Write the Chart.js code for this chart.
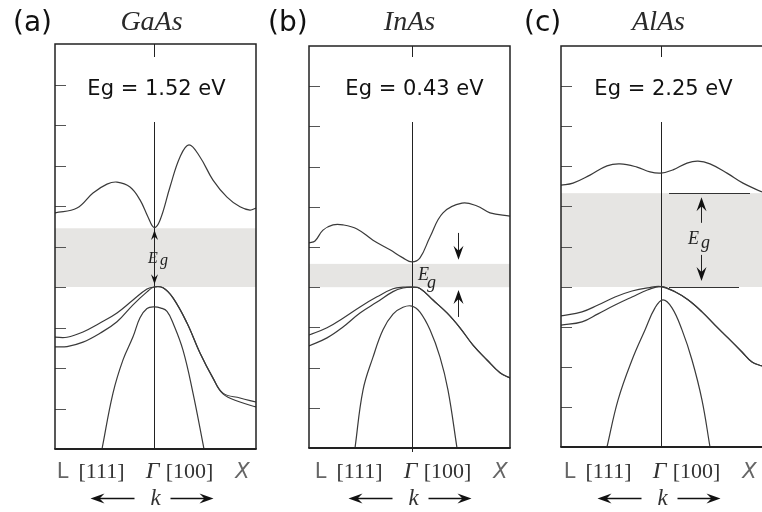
<!DOCTYPE html>
<html>
<head>
<meta charset="utf-8">
<script src="https://cdn.jsdelivr.net/npm/chart.js"></script>
<style>
body{margin:0;background:#fff;}
#wrap{position:relative;width:762px;height:512px;overflow:hidden;background:#fff;}
canvas{position:absolute;left:0;top:0;}
</style>
</head>
<body>
<div id="wrap">
<canvas id="c0" width="762" height="512"></canvas>
<canvas id="c1" width="762" height="512"></canvas>
<canvas id="c2" width="762" height="512"></canvas>
</div>
<script>
// texts
const panelTags = ["(a)", "(b)", "(c)"];
const materials = ["GaAs", "InAs", "AlAs"];
const gapTexts = ["Eg = 1.52 eV", "Eg = 0.43 eV", "Eg = 2.25 eV"];
const kLabels = ["L", "[111]", "\u0393", "[100]", "X"];

// k of Gamma point in each panel (L = 0, X = 201)
const gammaK = [99, 103, 100];

// band gap: valence top / conduction bottom (energy units, ticks at 1..9)
const gapLow = [4.0, 4.0, 3.99];
const gapHigh = [5.45, 4.58, 6.33];

// GaAs bands [k, E]
const gaasCond = [[0,5.83],[22,5.95],[38,6.32],[52,6.54],[62,6.59],[75,6.47],[85,6.15],[93,5.73],[99,5.47],[105,5.65],[115,6.47],[125,7.21],[134,7.51],[145,7.21],[158,6.64],[172,6.22],[185,5.98],[195,5.90],[201,5.95]];
const gaasHH = [[0,2.76],[12,2.76],[28,2.89],[45,3.11],[62,3.36],[78,3.68],[92,3.95],[99,4.0],[108,3.98],[118,3.73],[132,3.11],[145,2.37],[158,1.75],[168,1.38],[185,1.26],[201,1.16]];
const gaasLH = [[0,2.52],[12,2.53],[28,2.64],[45,2.86],[62,3.14],[78,3.56],[92,3.88],[99,4.0],[108,3.98],[118,3.73],[132,3.11],[145,2.37],[158,1.75],[168,1.36],[185,1.16],[201,1.04]];
const gaasSO = [[47,0],[58,1.38],[68,2.20],[78,2.77],[85,3.24],[92,3.47],[99,3.51],[106,3.48],[112,3.40],[118,3.11],[128,2.44],[138,1.38],[149,0]];

// InAs bands
const inasCond = [[0,5.10],[6,5.15],[14,5.42],[24,5.55],[34,5.55],[48,5.45],[64,5.17],[81,4.93],[94,4.73],[103,4.63],[111,4.73],[121,5.25],[134,5.85],[153,6.09],[168,6.02],[181,5.85],[201,5.77]];
const inasHH = [[0,2.81],[18,2.99],[34,3.23],[51,3.51],[68,3.76],[84,3.96],[94,4.0],[103,4.0],[111,3.97],[124,3.68],[138,3.36],[151,2.99],[164,2.56],[178,2.19],[191,1.87],[201,1.74]];
const inasLH = [[0,2.54],[18,2.74],[34,3.01],[51,3.36],[68,3.63],[84,3.89],[94,3.98],[103,4.0],[111,3.97],[124,3.68],[138,3.36],[151,2.99],[164,2.56],[178,2.19],[191,1.87],[201,1.74]];
const inasSO = [[46,0],[54,1.44],[64,2.26],[74,2.94],[84,3.33],[94,3.50],[103,3.53],[111,3.38],[121,2.94],[131,2.26],[139,1.44],[148,0]];

// AlAs bands
const alasCond = [[0,6.53],[12,6.58],[29,6.78],[46,7.01],[59,7.06],[76,6.98],[89,6.86],[100,6.83],[112,6.91],[126,7.08],[137,7.13],[149,7.06],[166,6.83],[182,6.58],[201,6.36]];
const alasHH = [[0,3.27],[21,3.37],[37,3.54],[54,3.74],[71,3.89],[87,3.97],[100,4.0],[114,3.87],[127,3.67],[141,3.37],[154,3.04],[167,2.72],[181,2.37],[191,2.12],[201,2.02]];
const alasLH = [[0,3.04],[21,3.12],[37,3.32],[54,3.54],[71,3.74],[87,3.92],[100,4.0],[114,3.87],[127,3.67],[141,3.37],[154,3.04],[167,2.72],[181,2.37],[191,2.12],[201,2.02]];
const alasSO = [[46,0],[57,1.17],[71,2.17],[84,2.92],[94,3.47],[102,3.67],[111,3.47],[121,2.92],[131,2.17],[141,1.17],[149,0]];

const bands = [
  [gaasCond, gaasHH, gaasLH, gaasSO],
  [inasCond, inasHH, inasLH, inasSO],
  [alasCond, alasHH, alasLH, alasSO]
];

// Eg arrows: k, [from, tip] energies
const egArrowK = [99, 149, 140];
const egUp = [[5.04, 5.41], [3.26, 3.93], [5.59, 6.23]];
const egDown = [[4.47, 4.07], [5.35, 4.68], [4.79, 4.14]];
const egLabel = [[93, 4.59], [109, 4.18], [127, 5.05]];
// AlAs edge marker lines [k0, k1, E]
const alasEdges = [[108, 189, 6.33], [108, 178, 4.0]];

// layout
const pads = [
  {left:55, top:44, right:506, bottom:63},
  {left:309, top:46, right:252, bottom:64},
  {left:561, top:46, right:0, bottom:65}
];
const tagX = [13, 268, 524];
const egFont = [16, 18, 18];
const gOff = [[12, 2], [9, 8], [13, 4]];
const lblOff = [-92, -53, -2, 35, 88];

function stealth(ctx, x, y, dx, dy, len, w){
  // tip at (x,y), direction (dx,dy)
  const bx = x - dx*len, by = y - dy*len;
  const px = -dy, py = dx;
  ctx.beginPath();
  ctx.moveTo(x, y);
  ctx.lineTo(bx + px*w/2, by + py*w/2);
  ctx.lineTo(x - dx*len*0.65, y - dy*len*0.65);
  ctx.lineTo(bx - px*w/2, by - py*w/2);
  ctx.closePath();
  ctx.fill();
}

function arrow(ctx, x0, y0, x1, y1, len, w){
  const d = Math.hypot(x1-x0, y1-y0), dx = (x1-x0)/d, dy = (y1-y0)/d;
  ctx.beginPath();
  ctx.moveTo(x0, y0);
  ctx.lineTo(x1 - dx*len*0.6, y1 - dy*len*0.6);
  ctx.stroke();
  stealth(ctx, x1, y1, dx, dy, len, w);
}

const bandPlugin = i => ({
  id: 'band' + i,
  beforeDatasetsDraw(chart){
    const {ctx, chartArea: a, scales: {x, y}} = chart;
    ctx.save();
    ctx.fillStyle = '#e6e5e3';
    const yt = y.getPixelForValue(gapHigh[i]), yb = y.getPixelForValue(gapLow[i]);
    ctx.fillRect(a.left, yt, a.right - a.left, yb - yt);
    // inward ticks
    ctx.strokeStyle = '#555';
    ctx.lineWidth = 1;
    for(let v = 1; v < 10; v++){
      const py = Math.round(y.getPixelForValue(v)) + 0.5;
      ctx.beginPath(); ctx.moveTo(a.left, py); ctx.lineTo(a.left + 11, py); ctx.stroke();
    }
    // Gamma line
    const gx = Math.round(x.getPixelForValue(gammaK[i])) + 0.5;
    ctx.strokeStyle = '#222';
    ctx.beginPath(); ctx.moveTo(gx, a.top); ctx.lineTo(gx, a.bottom + (i == 1 ? 4 : 0)); ctx.stroke();
    ctx.restore();
  },
  afterDatasetsDraw(chart){
    const {ctx, chartArea: a, scales: {x, y}} = chart;
    const gx = Math.round(x.getPixelForValue(gammaK[i])) + 0.5;
    ctx.save();
    // frame
    ctx.strokeStyle = '#222';
    ctx.lineWidth = 1.5;
    ctx.beginPath();
    ctx.moveTo(a.left, a.bottom); ctx.lineTo(a.left, a.top); ctx.lineTo(a.right, a.top);
    if(i < 2) ctx.lineTo(a.right, a.bottom);
    ctx.stroke();
    ctx.lineWidth = 2.2;
    ctx.beginPath(); ctx.moveTo(a.left - 0.7, a.bottom); ctx.lineTo(a.right + 0.7, a.bottom); ctx.stroke();

    // Eg value box
    ctx.fillStyle = '#fff';
    ctx.fillRect(gx - 72, 57, 144, 65);
    ctx.fillStyle = '#111';
    ctx.font = '21px "DejaVu Sans"';
    ctx.textAlign = 'center';
    ctx.textBaseline = 'alphabetic';
    ctx.fillText(gapTexts[i], gx + 2, 95);

    // tag and title
    ctx.font = '28px "DejaVu Sans"';
    ctx.textAlign = 'left';
    ctx.fillText(panelTags[i], tagX[i], 31);
    ctx.fillStyle = '#2a2a2a';
    ctx.font = 'italic 28px "Liberation Serif"';
    ctx.textAlign = 'center';
    ctx.fillText(materials[i], gx - 3, 30);

    // Eg arrows
    ctx.strokeStyle = '#222';
    ctx.fillStyle = '#111';
    ctx.lineWidth = 1;
    const ax = Math.round(x.getPixelForValue(egArrowK[i])) + 0.5;
    const hl = i == 0 ? 10 : 14, hw = i == 0 ? 7 : 10;
    arrow(ctx, ax, y.getPixelForValue(egUp[i][0]), ax, y.getPixelForValue(egUp[i][1]), hl, hw);
    arrow(ctx, ax, y.getPixelForValue(egDown[i][0]), ax, y.getPixelForValue(egDown[i][1]), hl, hw);
    if(i == 2){
      ctx.strokeStyle = '#333';
      alasEdges.forEach(e => {
        const py = Math.round(y.getPixelForValue(e[2])) + 0.5;
        ctx.beginPath(); ctx.moveTo(x.getPixelForValue(e[0]), py); ctx.lineTo(x.getPixelForValue(e[1]), py); ctx.stroke();
      });
    }
    // E_g label
    const ex = x.getPixelForValue(egLabel[i][0]), ey = y.getPixelForValue(egLabel[i][1]);
    ctx.fillStyle = '#222';
    ctx.textAlign = 'left';
    ctx.font = 'italic ' + egFont[i] + 'px "Liberation Serif"';
    ctx.fillText('E', ex, ey);
    ctx.fillText('g', ex + gOff[i][0], ey + gOff[i][1]);

    // k axis labels
    ctx.textAlign = 'center';
    kLabels.forEach((t, j) => {
      ctx.fillStyle = '#333';
      if(j == 0){ ctx.font = '21px "DejaVu Sans"'; ctx.fillStyle = '#666'; }
      else if(j == 4){ ctx.font = 'italic 21px "DejaVu Sans"'; ctx.fillStyle = '#666'; }
      else if(j == 2) ctx.font = 'italic 24px "Liberation Serif"';
      else ctx.font = '22px "Liberation Serif"';
      ctx.fillText(t, gx + lblOff[j], 478);
    });
    ctx.fillStyle = '#333';
    ctx.font = 'italic 23px "Liberation Serif"';
    ctx.fillText('k', gx + 1, 505);
    ctx.strokeStyle = '#111';
    ctx.fillStyle = '#111';
    ctx.lineWidth = 1.3;
    arrow(ctx, gx - 20, 498.5, gx - 64, 498.5, 14, 10);
    arrow(ctx, gx + 16, 498.5, gx + 59, 498.5, 14, 10);
    ctx.restore();
  }
});

bands.forEach((set, i) => {
  new Chart(document.getElementById('c' + i), {
    type: 'line',
    data: {
      datasets: set.map(b => ({
        data: b.map(p => ({x: p[0], y: p[1]})),
        borderColor: '#3a3a3a',
        borderWidth: 1.2,
        pointRadius: 0,
        tension: 0.4,
        fill: false
      }))
    },
    options: {
      responsive: false,
      animation: false,
      events: [],
      layout: {padding: pads[i]},
      plugins: {legend: {display: false}, tooltip: {enabled: false}},
      scales: {
        x: {type: 'linear', min: 0, max: 201, display: false},
        y: {min: 0, max: 10, display: false}
      }
    },
    plugins: [bandPlugin(i)]
  });
});
</script>
</body>
</html>
